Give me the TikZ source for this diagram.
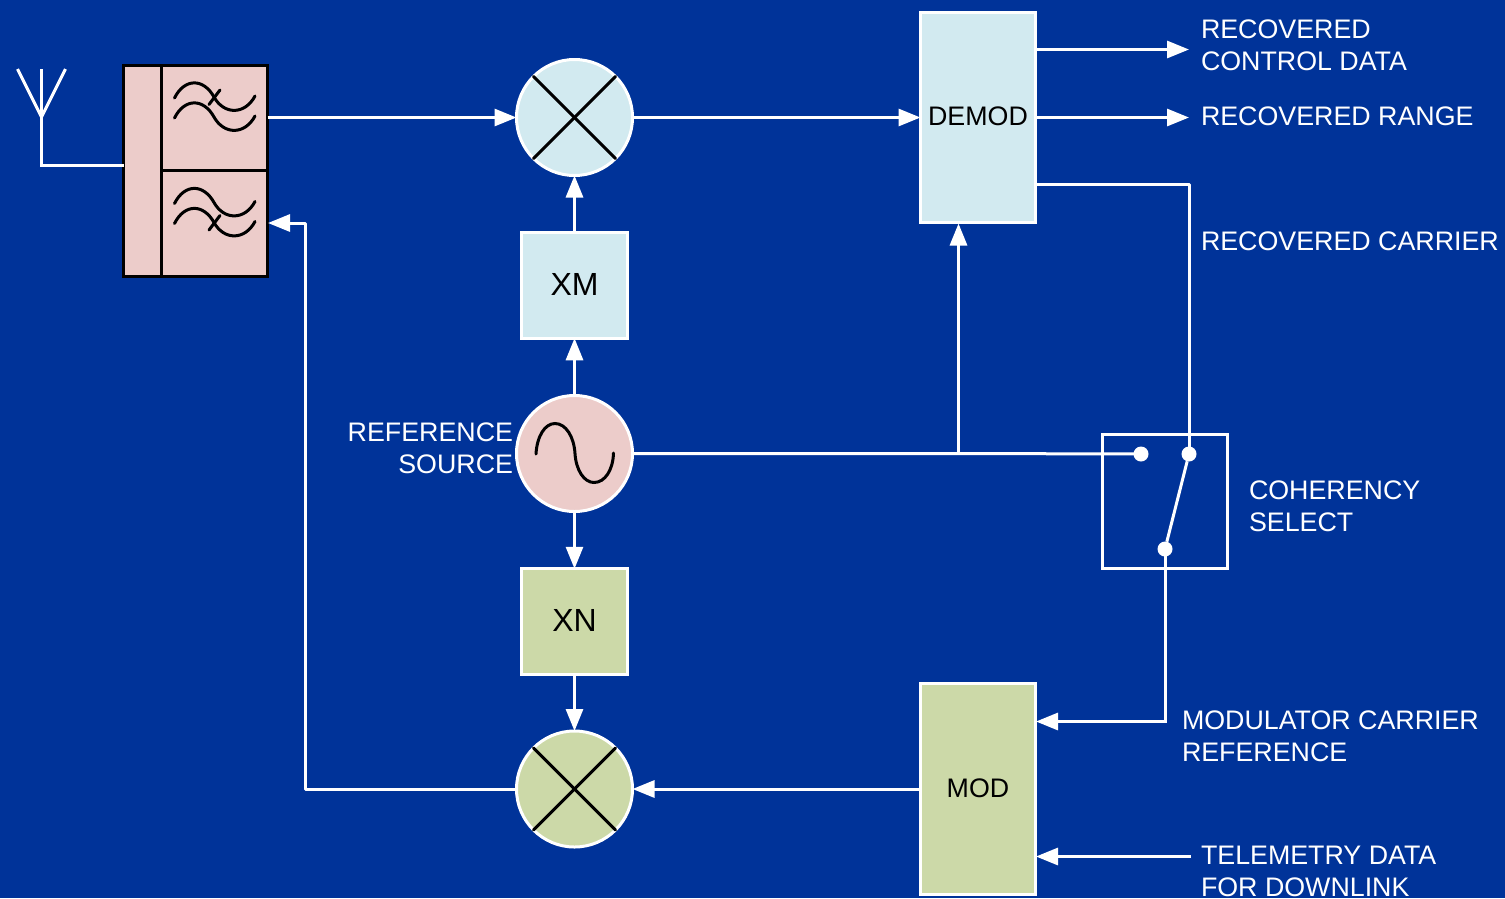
\documentclass[tikz,border=0pt]{standalone}
\usepackage{fontspec}
\setmainfont{Liberation Sans}
\usetikzlibrary{arrows.meta}
\definecolor{bgblue}{HTML}{003399}
\definecolor{lblue}{HTML}{D2EAF0}
\definecolor{lpink}{HTML}{ECCCCA}
\definecolor{lgreen}{HTML}{CCD9A8}
\tikzset{
  x=1pt,y=-1pt,
  every node/.style={inner sep=0pt,outer sep=0pt},
  blockbox/.style={draw=white,line width=3pt,minimum width=#1,font=\fontsize{26.8}{32}\selectfont,text=black},
  circblock/.style={circle,draw=white,line width=3pt,minimum size=116pt},
  label/.style={text=white,font=\fontsize{26.8}{32}\selectfont,align=left,anchor=west},
  wire/.style={draw=white,line width=3pt},
  arrow/.style={wire,-{Triangle[length=22pt,width=17pt]}},
  blk/.style={draw=black,line width=3pt,line cap=round},
  dot/.style={circle,fill=white,minimum size=15pt},
}
\newcommand{\filterwave}[2]{%
  \draw[blk] (174.5,#1+#2) .. controls (184.5,#1+#2-20) and (203.5,#1+#2-20) .. (214,#1+#2-1)
     .. controls (224,#1+#2+17) and (245,#1+#2+17) .. (255,#1+#2-2);}
\newcommand{\lifted}[1]{\raisebox{2pt}{#1}}
\begin{document}
\begin{tikzpicture}
\useasboundingbox (0,0) rectangle (1505,898);
\fill[bgblue] (0,0) rectangle (1505,898);

% filter block
\node[draw=black,line width=3pt,fill=lpink,minimum width=144pt,minimum height=211pt] (filt) at (195.5,170.5) {};
\coordinate (fdivtop) at (161.5,65);
\coordinate (fdivbot) at (161.5,276);
\coordinate (fmidl) at (161.5,170);
\coordinate (fmidr) at (267.5,170);
\draw[draw=black,line width=3pt] (fdivtop) -- (fdivbot);
\draw[draw=black,line width=3pt] (fmidl) -- (fmidr);
\filterwave{98}{0}
\filterwave{98}{20}
\draw[blk] (209,104.5) -- (220,90);
\filterwave{203.5}{0}
\filterwave{203.5}{20}
\draw[blk] (209,230) -- (220,215.5);

% antenna
\coordinate (anttop) at (41.5,69);
\coordinate (antl) at (17.5,69);
\coordinate (antr) at (65.5,69);
\coordinate (antj) at (41.5,117);
\coordinate (antc) at (41.5,165);
\draw[wire,line join=round] (antl) -- (antj) -- (antr);
\draw[wire] (anttop) -- (antj) -- (antc) -- (filt.west |- antc);

% blocks
\node[blockbox=115pt,fill=lblue,minimum height=210.5pt] (demod) at (978,117.5) {\lifted{DEMOD}};
\node[blockbox=106pt,fill=lblue,minimum height=105.5pt,font=\fontsize{32}{36}\selectfont] (xm) at (574.5,285.5) {\lifted{XM}};
\node[blockbox=106pt,fill=lgreen,minimum height=105.5pt,font=\fontsize{32}{36}\selectfont] (xn) at (574.5,621.5) {\lifted{XN}};
\node[blockbox=115pt,fill=lgreen,minimum height=210.5pt] (mod) at (978,789) {\raisebox{1pt}{MOD}};

% mixers and source
\node[circblock,fill=lblue] (mixu) at (574.5,117.5) {};
\draw[blk] (533.5,76.5) -- (615.5,158.5);
\draw[blk] (533.5,158.5) -- (615.5,76.5);
\node[circblock,fill=lgreen] (mixd) at (574.5,789) {};
\draw[blk] (533.5,748) -- (615.5,830);
\draw[blk] (533.5,830) -- (615.5,748);
\node[circblock,fill=lpink] (ref) at (574.5,453.5) {};
\draw[blk] (536,454) .. controls (537,436) and (545,423.5) .. (555,423.5)
  .. controls (566,423.5) and (574,437) .. (575,453.5)
  .. controls (576,470) and (584,482.5) .. (594,482.5)
  .. controls (605,482.5) and (613,470) .. (613.5,453);

% switch
\node[draw=white,line width=3pt,minimum width=125pt,minimum height=134pt] (sw) at (1165,501.5) {};
\node[dot] (swa) at (1141,454) {};
\node[dot] (swb) at (1189,454) {};
\node[dot] (swc) at (1165,549) {};
\draw[wire] (swb) -- (swc);

% free ends
\coordinate (outa) at (1189,49.5);
\coordinate (outb) at (1189,117.5);
\coordinate (dcarr) at (1036,184.5);
\coordinate (corner) at (1189,184.5);
\coordinate (junc) at (958.5,453.5);
\coordinate (tlm) at (1191,856.5);
\coordinate (retx) at (305.5,789);
\coordinate (rety) at (305.5,223);
\coordinate (modin) at (1036,721.5);
\coordinate (swdown) at (1165,721.5);
\coordinate (demoda) at (1036,49.5);
\coordinate (modb) at (1036,856.5);
\coordinate (filtr) at (268,223);
\coordinate (demodin) at (958.5,223.5);

% connectors
\draw[arrow] (filt.east |- mixu) -- (mixu.west);
\draw[arrow] (mixu.east) -- (demod.west);
\draw[arrow] (demoda) -- (outa);
\draw[arrow] (demod.east) -- (outb);
\draw[wire,line join=round] (dcarr) -- (corner) -- (swb.center);
\draw[arrow] (xm.north) -- (mixu.south);
\draw[arrow] (ref.north) -- (xm.south);
\draw[arrow] (ref.south) -- (xn.north);
\draw[arrow] (xn.south) -- (mixd.north);
\draw[wire] (ref.east) -- (junc) -- (swa.center);
\draw[arrow] (junc) -- (demodin);
\draw[arrow] (swc.center) -- (swdown) -- (modin);
\draw[arrow] (mod.west) -- (mixd.east);
\draw[arrow] (tlm) -- (modb);
\draw[arrow,line join=round] (mixd.west) -- (retx) -- (rety) -- (filtr);

% labels
\node[label] (lrc) at (1201,45) {RECOVERED\\CONTROL DATA};
\node[label] (lrr) at (1201,116) {RECOVERED RANGE};
\node[label] (lca) at (1201,241) {RECOVERED CARRIER};
\node[label] (lcs) at (1249,506) {COHERENCY\\SELECT};
\node[label] (lmc) at (1182,736) {MODULATOR CARRIER\\REFERENCE};
\node[label] (ltd) at (1201,871) {TELEMETRY DATA\\FOR DOWNLINK};
\node[label,anchor=east,align=right] (lrs) at (513,448) {REFERENCE\\SOURCE};
\end{tikzpicture}
\end{document}
